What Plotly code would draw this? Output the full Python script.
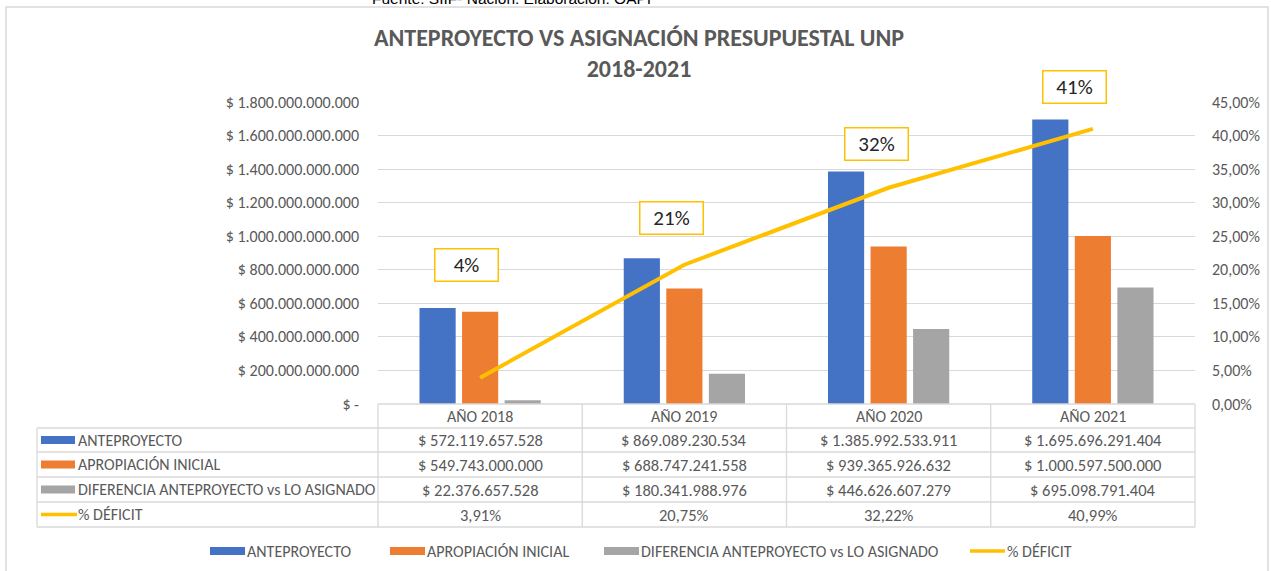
import plotly.graph_objects as go

# Datos
anios = ["AÑO 2018", "AÑO 2019", "AÑO 2020", "AÑO 2021"]
anteproyecto = [572119657528, 869089230534, 1385992533911, 1695696291404]
apropiacion = [549743000000, 688747241558, 939365926632, 1000597500000]
diferencia = [22376657528, 180341988976, 446626607279, 695098791404]
deficit = [3.91, 20.75, 32.22, 40.99]

series = ["ANTEPROYECTO", "APROPIACIÓN INICIAL", "DIFERENCIA ANTEPROYECTO vs LO ASIGNADO", "% DÉFICIT"]
colores = ["#4472C4", "#ED7D31", "#A5A5A5", "#FFC000"]

y_ticks = [0, 200e9, 400e9, 600e9, 800e9, 1000e9, 1200e9, 1400e9, 1600e9, 1800e9]

FONT = "Carlito, 'Liberation Sans Narrow', Arial Narrow, Arial, sans-serif"
GRIS_TXT = "#595959"
GRIS_LIN = "#D9D9D9"

W, H = 1271, 571
L, R, T, B = 378, 1195, 102, 404


def px(x):
    return (x - L) / (R - L)


def py(y):
    return (B - y) / (B - T)


def pesos(v):
    return "$ " + f"{v:,.0f}".replace(",", ".")


def pct(v):
    return f"{v:.2f}%".replace(".", ",")


fig = go.Figure()
for nombre, valores, color in zip(series[:3], [anteproyecto, apropiacion, diferencia], colores[:3]):
    fig.add_trace(go.Bar(x=anios, y=valores, name=nombre, marker=dict(color=color, line=dict(width=0)),
                         showlegend=False))

fig.add_trace(go.Scatter(x=anios, y=[d / 100 for d in deficit], name=series[3], mode="lines",
                         line=dict(color=colores[3], width=4), yaxis="y2", showlegend=False))

anotaciones = []
# etiquetas del % de déficit (cajas)
desplaz = [(-14, 113), (-13, 47), (-12, 44), (-18, 42)]
for a, d, (dx, dy) in zip(anios, deficit, desplaz):
    anotaciones.append(dict(x=a, y=d / 100, xref="x", yref="y2", text=f"{round(d)}%", showarrow=False,
                            xanchor="center", yanchor="middle",
                            xshift=dx, yshift=dy, width=58, height=27, borderpad=2,
                            bordercolor="#FFC000", borderwidth=1.5, bgcolor="white",
                            font=dict(family=FONT, size=21, color="#262626")))

# tabla de datos
filas_y = [404, 428, 452, 477, 502, 527]
shapes = []
for yy in filas_y:
    x0 = L if yy == 404 else 37
    shapes.append(dict(type="line", xref="paper", yref="paper", x0=px(x0), x1=1.0, y0=py(yy), y1=py(yy),
                       line=dict(color=GRIS_LIN, width=1.3)))
for i in range(5):
    xx = L + i * (R - L) / 4
    shapes.append(dict(type="line", xref="paper", yref="paper", x0=px(xx), x1=px(xx), y0=py(404), y1=py(527),
                       line=dict(color=GRIS_LIN, width=1.3)))
shapes.append(dict(type="line", xref="paper", yref="paper", x0=px(37), x1=px(37), y0=py(428), y1=py(527),
                   line=dict(color=GRIS_LIN, width=1.3)))

TXT = dict(showarrow=False, yanchor="middle", font=dict(family=FONT, size=16, color=GRIS_TXT))
VAL = dict(showarrow=False, yanchor="middle", font=dict(family=FONT, size=16.5, color=GRIS_TXT))
for a in anios:
    anotaciones.append(dict(x=a, y=py(416), xref="x", yref="paper", text=a, xanchor="center", **TXT))

filas = [[pesos(v) for v in anteproyecto], [pesos(v) for v in apropiacion],
         [pesos(v) for v in diferencia], [pct(v) for v in deficit]]
for r, (nombre, color, fila) in enumerate(zip(series, colores, filas)):
    yc = (filas_y[r + 1] + filas_y[r + 2]) / 2
    for a, txt in zip(anios, fila):
        anotaciones.append(dict(x=a, y=py(yc), xref="x", yref="paper", text=txt, xanchor="center", **VAL))
    if r < 3:
        shapes.append(dict(type="rect", xref="paper", yref="paper", x0=px(41), x1=px(75),
                           y0=py(yc - 4), y1=py(yc + 4), fillcolor=color, line=dict(width=0)))
    else:
        shapes.append(dict(type="line", xref="paper", yref="paper", x0=px(41), x1=px(77),
                           y0=py(yc), y1=py(yc), line=dict(color=color, width=3.5)))
    anotaciones.append(dict(x=px(76), y=py(yc), xref="paper", yref="paper", text=nombre,
                            xanchor="left", **TXT))

# leyenda
leyenda_x = [210, 390, 604, 970]
for nombre, color, x0 in zip(series, colores, leyenda_x):
    if nombre == "% DÉFICIT":
        shapes.append(dict(type="line", xref="paper", yref="paper", x0=px(x0), x1=px(x0 + 35),
                           y0=py(551), y1=py(551), line=dict(color=color, width=3.5)))
    else:
        shapes.append(dict(type="rect", xref="paper", yref="paper", x0=px(x0), x1=px(x0 + 35),
                           y0=py(555), y1=py(547), fillcolor=color, line=dict(width=0)))
    anotaciones.append(dict(x=px(x0 + 35), y=py(551), xref="paper", yref="paper", text=nombre,
                            xanchor="left", **TXT))

# borde del gráfico
shapes.append(dict(type="rect", xref="paper", yref="paper", x0=px(6), x1=px(1268), y0=py(7), y1=py(600),
                   line=dict(color=GRIS_LIN, width=1.5), fillcolor="rgba(0,0,0,0)"))

# texto de fuente (cortado en la parte superior)
anotaciones.append(dict(x=px(511), y=py(9), xref="paper", yref="paper", yanchor="bottom", xanchor="center",
                        text="Fuente: SIIF- Nación. Elaboración: OAPI", showarrow=False,
                        font=dict(family="Arial, Liberation Sans, sans-serif", size=15.5, color="black")))

fig.update_layout(
    width=W, height=H,
    margin=dict(l=L, r=W - R, t=T, b=H - B),
    paper_bgcolor="white", plot_bgcolor="white",
    separators=",.",
    barmode="group", bargap=0.375, bargroupgap=0.15,
    title=dict(text="<b>ANTEPROYECTO VS ASIGNACIÓN PRESUPUESTAL UNP<br>2018-2021</b>",
               x=639 / W, xanchor="center", y=1 - 46 / H, yanchor="middle",
               font=dict(family=FONT, size=24, color=GRIS_TXT)),
    xaxis=dict(range=[-0.5, 3.5], showticklabels=False, showgrid=False, zeroline=False, ticks=""),
    yaxis=dict(range=[0, 1800e9], tickvals=y_ticks,
               ticktext=["$ -"] + [pesos(v) for v in y_ticks[1:]],
               showgrid=True, gridcolor=GRIS_LIN, gridwidth=1.3, zeroline=False, ticklabelstandoff=18,
               tickfont=dict(family=FONT, size=16, color=GRIS_TXT)),
    yaxis2=dict(range=[0, 0.45], dtick=0.05, tickformat=".2%", overlaying="y", side="right",
                showgrid=False, zeroline=False, ticklabelstandoff=16,
                tickfont=dict(family=FONT, size=16, color=GRIS_TXT)),
    shapes=shapes,
    annotations=anotaciones,
    showlegend=False,
)

fig.write_html("out.html", config={"displayModeBar": False},
               post_script="document.body.style.margin='0';")
